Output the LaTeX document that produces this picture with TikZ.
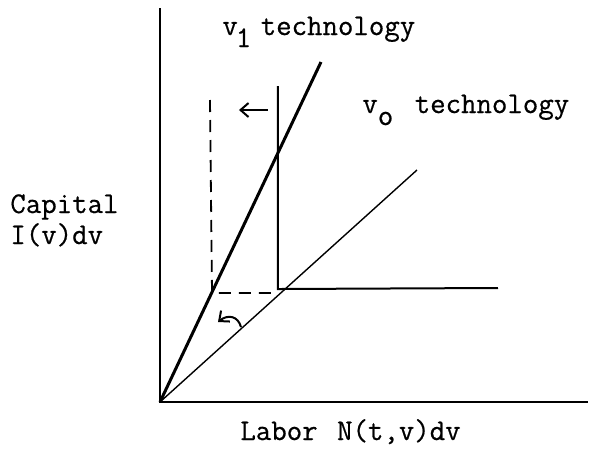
\documentclass[tikz,border=0pt]{standalone}
\usepackage{fontspec}
\newfontfamily\typew[FakeBold=0.6]{Latin Modern Mono}
\usetikzlibrary{arrows.meta}
\begin{document}
\begin{tikzpicture}[
  x=0.5pt,y=-0.5pt,font=\typew\fontsize{15}{17}\selectfont,
  axisline/.style={line width=1.1pt},
  techthick/.style={line width=1.5pt},
  techthin/.style={line width=0.7pt},
  shifted/.style={line width=0.9pt,dash pattern=on 6pt off 4pt},
  shiftarrow/.style={-{Straight Barb[length=4pt,width=7pt]},line width=1pt},
  lbl/.style={anchor=base west,inner sep=0pt},
]
\useasboundingbox (0,0) rectangle (591,451);

\coordinate (O) at (160,402);
\coordinate (ytop) at (160,8);
\coordinate (xend) at (588,402);
\coordinate (v1end) at (321,62);
\coordinate (v0end) at (417,170);
\coordinate (kink) at (281,289);
\coordinate (kinktop) at (278,86);
\coordinate (flat) at (498,288);
\coordinate (dcorner) at (212,293);
\coordinate (dtop) at (210,100);

\draw[axisline] (ytop) -- (O) -- (xend);
\draw[techthick] (O) -- (v1end);
\draw[techthin] (O) -- (v0end);
\draw[line width=1pt] (kinktop) -- (kinktop|-kink) -- (kink) -- (flat);
\draw[shifted] (dtop) -- (dcorner) -- (kinktop|-dcorner);

\coordinate (a1) at (268,110);
\coordinate (a2) at (239,110);
\draw[shiftarrow] (a1) -- (a2);
\coordinate (b1) at (241,327);
\coordinate (b2) at (218,322);
\draw[shiftarrow] (b1) .. controls (238,316) and (228,314) .. (b2);

\node[lbl] (v1lbl) at (222,35) {v\kern-1pt\raisebox{-6pt}{1}\kern-3pt\ technology};
\node[lbl] (v0lbl) at (362,113) {v\raisebox{-6pt}{o}\kern3pt\ technology};
\node[lbl] (caplbl) at (10,213) {Capital};
\node[lbl] (invlbl) at (10,244) {I(v)dv};
\node[lbl] (lablbl) at (240,440) {Labor\ \kern2pt N(t,v)dv};
\end{tikzpicture}
\end{document}
